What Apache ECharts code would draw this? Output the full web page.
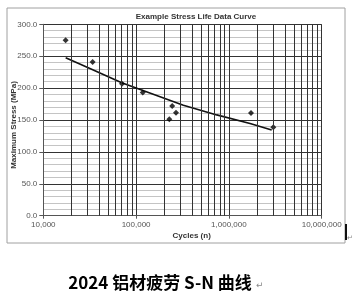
<!DOCTYPE html>
<html><head><meta charset="utf-8">
<script src="https://cdn.jsdelivr.net/npm/echarts@6/dist/echarts.min.js"></script>
<style>html,body{margin:0;padding:0;background:#fff}#c{width:355px;height:294px}</style>
</head><body><div id="c"></div>
<script>
const pointCycles = [17400, 34000, 70500, 118000, 245000, 269000, 228000, 1730000, 3010000];
const pointStress = [275, 241, 207, 193, 172, 161.5, 151, 161, 138.5];
const fitCycles = [17420, 30500, 70000, 153000, 323000, 740000, 1690000, 2890000];
const fitStress = [247.6, 231.8, 208.5, 190.5, 173.0, 158.0, 144.5, 134.2];
const minorCycles = [20000,30000,40000,50000,60000,70000,80000,90000,
  200000,300000,400000,500000,600000,700000,800000,900000,
  2000000,3000000,4000000,5000000,6000000,7000000,8000000,9000000];
const titleText = 'Example Stress Life Data Curve';
const xName = 'Cycles (n)';
const yName = 'Maximum Stress (MPa)';
const caption = '2024 铝材疲劳 S-N 曲线';

const chart = echarts.init(document.getElementById('c'), null, {renderer:'canvas'});
const F = 'Liberation Sans, Arial, sans-serif';
chart.setOption({
  animation:false,
  grid:{left:43.3, right:33.3, top:24.3, bottom:78.3},
  xAxis:{type:'log', logBase:10, min:10000, max:10000000,
    axisLine:{show:true, onZero:false, lineStyle:{color:'#555'}},
    axisTick:{show:true, length:3, lineStyle:{color:'#555'}},
    axisLabel:{fontFamily:F, fontSize:8, color:'#555', margin:5,
      formatter:v=>Number(v).toLocaleString('en-US')},
    splitLine:{show:true, lineStyle:{color:'#333', width:1}}
  },
  yAxis:{type:'value', min:0, max:300, interval:50,
    axisLine:{show:true, lineStyle:{color:'#555'}},
    axisTick:{show:true, length:4, lineStyle:{color:'#555'}},
    axisLabel:{fontFamily:F, fontSize:8, color:'#555', margin:6, formatter:v=>v.toFixed(1)},
    splitLine:{show:true, lineStyle:{color:'#333', width:1}},
    minorTick:{show:false, splitNumber:5},
    minorSplitLine:{show:true, lineStyle:{color:'#c4c4c4', width:1}}
  },
  series:[
    {type:'line', data:fitCycles.map((c,i)=>[c,fitStress[i]]), smooth:false, showSymbol:false,
      lineStyle:{color:'#111', width:1.6, join:'round'}, silent:true, z:3,
      markLine:{silent:true, symbol:['none','none'], label:{show:false},
        lineStyle:{color:'#333', width:1, type:'solid'},
        data:minorCycles.map(c=>({xAxis:c}))}},
    {type:'scatter', data:pointCycles.map((c,i)=>[c,pointStress[i]]), symbol:'diamond', symbolSize:6,
      itemStyle:{color:'#000'}, z:4}
  ],
  graphic:[
    {type:'rect', shape:{x:7, y:8, width:338, height:235}, style:{fill:'none', stroke:'#a0a0a0', lineWidth:1}, z:-1},
    {type:'text', x:196, y:16.5, style:{text:titleText, font:'bold 8px '+F, fill:'#333', align:'center', verticalAlign:'middle'}},
    {type:'text', x:191.7, y:235.5, style:{text:xName, font:'bold 8px '+F, fill:'#333', align:'center', verticalAlign:'middle'}},
    {type:'text', x:13.3, y:125, rotation:Math.PI/2, style:{text:yName, font:'bold 8px '+F, fill:'#333', align:'center', verticalAlign:'middle'}},
    {type:'text', x:160, y:283, style:{text:caption, font:'bold 17px "Noto Sans CJK SC", sans-serif', fill:'#000', align:'center', verticalAlign:'middle'}},
    {type:'text', x:256, y:286, style:{text:'↵', font:'9px "DejaVu Sans"', fill:'#888', align:'left', verticalAlign:'middle'}},
    {type:'rect', shape:{x:345, y:224, width:2, height:16}, style:{fill:'#111'}},
    {type:'text', x:347, y:238, style:{text:'↵', font:'7px "DejaVu Sans"', fill:'#888', align:'left', verticalAlign:'middle'}}
  ]
});
</script></body></html>
